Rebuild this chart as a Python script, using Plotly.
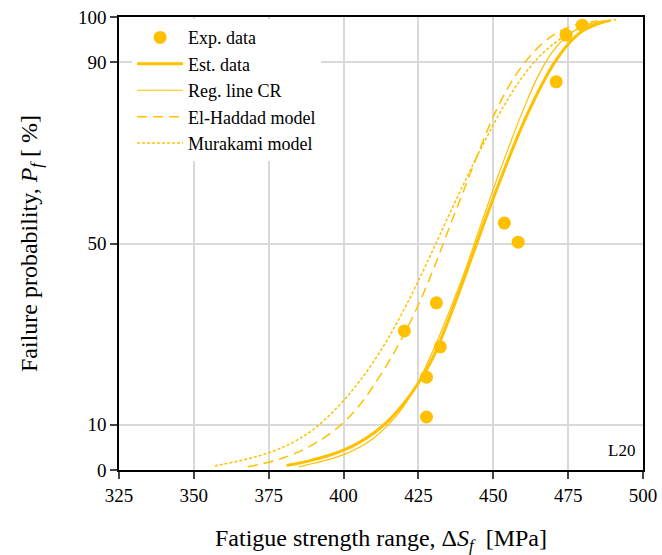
import plotly.graph_objects as go

GOLD = "#FFC000"

# Experimental data
exp_x = [479.7, 474.3, 471.0, 453.7, 458.3, 431.0, 432.3, 420.3, 427.7, 427.7]
exp_y = [98.2, 96.0, 85.7, 54.5, 50.3, 36.9, 27.2, 30.7, 20.5, 11.7]

# Estimated data (thick solid)
est_x = [381, 385, 390, 395, 400, 405, 410, 415, 420, 425, 430, 435, 440, 445,
         450, 455, 460, 465, 470, 475, 480, 485, 489]
est_y = [1.0, 1.5, 2.3, 3.2, 4.4, 6.0, 8.1, 10.9, 14.6, 19.2, 25.0, 33.0, 41.8,
         51.0, 60.0, 68.5, 76.5, 83.5, 89.5, 94.0, 97.0, 98.5, 99.2]

# Regression line CR (thin solid)
reg_x = [385, 390, 395, 400, 405, 410, 415, 420, 425, 430, 435, 440, 445, 450,
         455, 460, 465, 470, 475, 480, 487]
reg_y = [0.7, 1.5, 2.3, 3.4, 4.9, 7.0, 10.0, 14.0, 19.5, 26.5, 34.5, 43.0, 52.5,
         62.0, 71.0, 79.5, 87.0, 92.5, 96.0, 98.0, 99.2]

# El-Haddad model (dashed)
elh_x = [368, 375, 380, 385, 390, 395, 400, 405, 410, 415, 420, 425, 430, 435,
         440, 445, 450, 455, 460, 465, 470, 475, 480, 485]
elh_y = [0.7, 1.7, 2.7, 4.0, 5.7, 7.8, 10.5, 14.0, 18.6, 23.8, 29.7, 36.5, 44.3,
         53.0, 61.5, 70.0, 78.0, 84.5, 89.5, 93.3, 96.0, 97.7, 98.6, 99.2]

# Murakami model (dotted)
mur_x = [357, 360, 365, 370, 375, 380, 385, 390, 395, 400, 405, 410, 415, 420,
         425, 430, 435, 440, 445, 450, 455, 460, 465, 470, 475, 480, 485, 491]
mur_y = [0.9, 1.3, 2.0, 2.8, 3.8, 5.1, 6.8, 9.0, 11.9, 15.3, 19.3, 23.9, 29.2,
         35.2, 41.8, 48.8, 56.0, 63.0, 69.8, 76.2, 82.0, 87.0, 91.0, 94.0, 96.2,
         97.8, 98.8, 99.4]

x_ticks = [325, 350, 375, 400, 425, 450, 475, 500]
y_ticks = [0, 10, 50, 90, 100]

FONT = "Liberation Serif, Times New Roman, Times, DejaVu Serif, serif"
TICKFONT = dict(family=FONT, size=19, color="black")
TITLEFONT = dict(family=FONT, size=24, color="black")

fig = go.Figure()
fig.add_trace(go.Scatter(x=exp_x, y=exp_y, mode="markers", name="Exp. data",
                         marker=dict(color=GOLD, size=13)))
fig.add_trace(go.Scatter(x=est_x, y=est_y, mode="lines", name="Est. data",
                         line=dict(color=GOLD, width=3, shape="spline")))
fig.add_trace(go.Scatter(x=reg_x, y=reg_y, mode="lines", name="Reg. line CR",
                         line=dict(color=GOLD, width=1.2, shape="spline")))
fig.add_trace(go.Scatter(x=elh_x, y=elh_y, mode="lines", name="El-Haddad model",
                         line=dict(color=GOLD, width=1.5, shape="spline",
                                   dash="10px,6px")))
fig.add_trace(go.Scatter(x=mur_x, y=mur_y, mode="lines", name="Murakami model",
                         line=dict(color=GOLD, width=1.5, shape="spline",
                                   dash="3px,2px")))

fig.add_annotation(text="L20", x=0.9885, y=0.042, xref="paper", yref="paper",
                   xanchor="right", yanchor="middle", showarrow=False,
                   font=dict(family=FONT, size=17, color="black"))

fig.update_layout(
    width=662, height=555,
    margin=dict(l=119, r=19, t=17, b=85, autoexpand=False),
    paper_bgcolor="white", plot_bgcolor="white",
    font=dict(family=FONT, size=19, color="black"),
    showlegend=True,
    legend=dict(x=0.025, y=0.995, xanchor="left", yanchor="top",
                bgcolor="white", font=dict(family=FONT, size=18, color="black"),
                borderwidth=0, itemwidth=46),
    xaxis=dict(range=[325, 500], tickvals=x_ticks, ticks="outside", ticklen=7,
               tickwidth=1.5, showline=True, linecolor="black", linewidth=1.5,
               mirror=True, showgrid=True, gridcolor="#d9d9d9", gridwidth=1.5,
               zeroline=False, automargin=False, tickfont=TICKFONT,
               title=dict(text="Fatigue strength range, Δ<i>S</i><sub><i>f</i></sub>  [MPa]",
                          standoff=25, font=TITLEFONT)),
    yaxis=dict(range=[0, 100], tickvals=y_ticks, ticks="outside", ticklen=7,
               tickwidth=1.5, showline=True, linecolor="black", linewidth=1.5,
               mirror=True, showgrid=True, gridcolor="#d9d9d9", gridwidth=1.5,
               zeroline=False, automargin=False, tickfont=TICKFONT,
               title=dict(text="Failure probability, <i>P</i><sub><i>f</i></sub> [ %]",
                          standoff=34, font=TITLEFONT)),
)

fig.write_html("out.html")
